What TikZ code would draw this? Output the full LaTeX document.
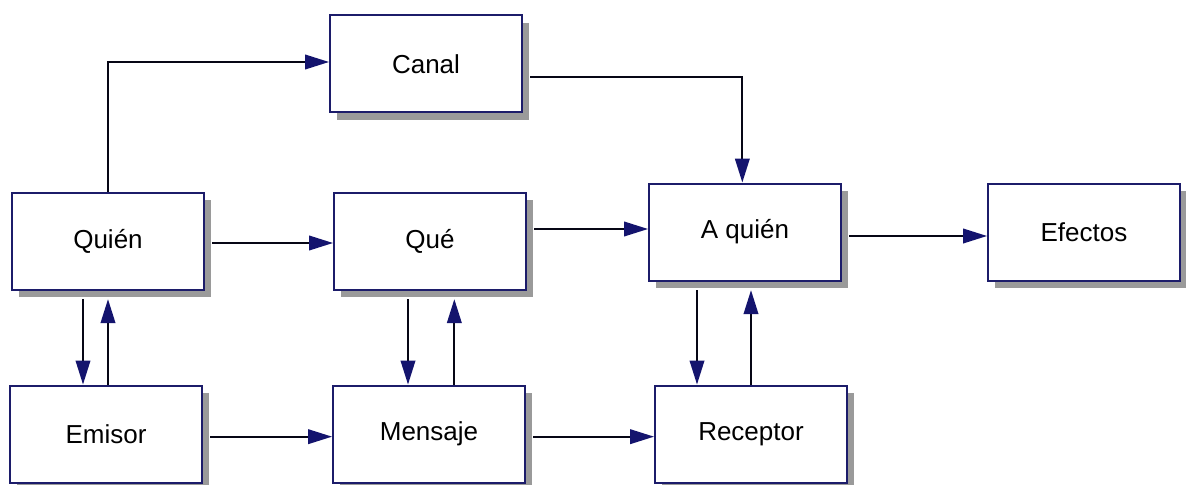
\documentclass[tikz,border=0pt]{standalone}
\usepackage{fontspec}
\setmainfont{Liberation Sans}
\usetikzlibrary{arrows.meta}
\definecolor{boxline}{HTML}{1C1C6A}
\definecolor{tipcol}{HTML}{14146E}
\definecolor{shadowcol}{HTML}{9A9A9A}
\tikzset{
  blk/.style={draw=boxline, line width=1.5pt, fill=white, rectangle, inner sep=0pt,
    minimum width=144pt, minimum height=72.75pt,
    font=\fontsize{19.5}{22}\selectfont},
  shade/.style={fill=shadowcol, draw=none},
  conn/.style={draw=black!80!boxline, line width=1.3pt,
    -{Triangle[length=18pt,width=11pt,fill=tipcol,color=tipcol]}},
}
\newcommand{\blockbox}[3]{%
  % #1 name, #2 centre (px), #3 text
  \fill[shade] ([xshift=5pt,yshift=-6pt]#2) ++(-72pt,36.4pt) rectangle ++(144pt,-72.75pt);
  \node[blk] (#1) at (#2) {#3};
}
\begin{document}
\begin{tikzpicture}[x=0.75pt, y=-0.75pt]
\useasboundingbox[fill=white] (0,0) rectangle (1186,485);

% top row
\blockbox{canal}{426,64}{Canal}
% middle row
\blockbox{quien}{108,241}{Quién}
\blockbox{que}{430,241}{Qué}
\blockbox{aquien}{745,232}{A quién}
\blockbox{efectos}{1084,232}{Efectos}
% bottom row
\blockbox{emisor}{106,434}{Emisor}
\blockbox{mensaje}{429,434}{Mensaje}
\blockbox{receptor}{751,434}{Receptor}

% Quién -> Canal
\draw[conn] (quien.north) |- ([yshift=1.5pt]canal.west);
% Canal -> A quién
\draw[conn, shorten <=5.5pt] ([yshift=-10pt]canal.east) -| ([xshift=-2pt]aquien.north);

% horizontal flows
\draw[conn, shorten <=5.5pt] ([yshift=-1.5pt]quien.east) -- ([yshift=-1.5pt]que.west);
\draw[conn, shorten <=5.5pt] ([yshift=2.25pt]que.east |- aquien.west) -- ([yshift=2.25pt]aquien.west);
\draw[conn, shorten <=5.5pt] ([yshift=-3pt]aquien.east) -- ([yshift=-3pt]efectos.west);
\draw[conn, shorten <=5.5pt] ([yshift=-2pt]emisor.east) -- ([yshift=-2pt]mensaje.west);
\draw[conn, shorten <=5.5pt] ([yshift=-2pt]mensaje.east) -- ([yshift=-2pt]receptor.west);

% vertical feedback pairs
\draw[conn, shorten <=6.5pt] ([xshift=-18.75pt]quien.south) -- ([xshift=-18.75pt]quien.south |- emisor.north);
\draw[conn, shorten >=6.5pt] ([xshift=1.5pt]emisor.north) -- ([xshift=1.5pt]emisor.north |- quien.south);
\draw[conn, shorten <=6.5pt] ([xshift=-16.5pt]que.south) -- ([xshift=-16.5pt]que.south |- mensaje.north);
\draw[conn, shorten >=6.5pt] ([xshift=19pt]mensaje.north) -- ([xshift=19pt]mensaje.north |- que.south);
\draw[conn, shorten <=6.5pt] ([xshift=-36pt]aquien.south) -- ([xshift=-36pt]aquien.south |- receptor.north);
\draw[conn, shorten >=6.5pt] ([xshift=0pt]receptor.north) -- ([xshift=0pt]receptor.north |- aquien.south);
\end{tikzpicture}
\end{document}
